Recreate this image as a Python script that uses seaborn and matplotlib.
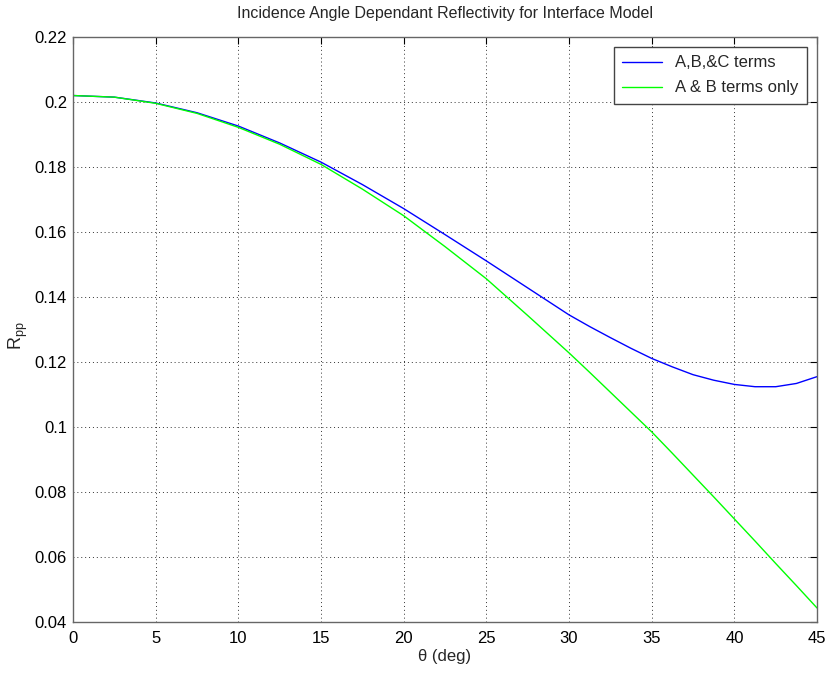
import matplotlib
matplotlib.use("Agg")
import matplotlib.pyplot as plt
import seaborn as sns
import pandas as pd

theta = [0, 2.5, 5, 7.5, 10, 12.5, 15, 17.5, 20, 22.5, 25, 27.5, 30,
         31.25, 32.5, 33.75, 35, 36.25, 37.5, 38.75, 40, 41.25, 42.5, 43.75, 45]
abc_terms = [0.2020, 0.2015, 0.1997, 0.1967, 0.1926, 0.1874, 0.1815, 0.1746, 0.1672, 0.1592,
             0.1511, 0.1428, 0.1345, 0.1309, 0.1275, 0.1242, 0.1211, 0.1185, 0.1161, 0.1144,
             0.1131, 0.1124, 0.1124, 0.1134, 0.1155]
ab_terms = [0.2020, 0.2015, 0.1996, 0.1965, 0.1922, 0.1870, 0.1808, 0.1732, 0.1650, 0.1555,
            0.1456, 0.1343, 0.1228, 0.1168, 0.1107, 0.1046, 0.0985, 0.0919, 0.0852, 0.0785,
            0.0717, 0.0649, 0.0580, 0.0512, 0.0443]
labels = ["A,B,&C terms", "A & B terms only"]
xticks = [0, 5, 10, 15, 20, 25, 30, 35, 40, 45]
yticks = [0.04, 0.06, 0.08, 0.1, 0.12, 0.14, 0.16, 0.18, 0.2, 0.22]
ytick_labels = ["0.04", "0.06", "0.08", "0.1", "0.12", "0.14", "0.16", "0.18", "0.2", "0.22"]

df = pd.DataFrame({
    "theta": theta * 2,
    "R": abc_terms + ab_terms,
    "series": [labels[0]] * len(theta) + [labels[1]] * len(theta),
})

sns.set_style("white")
fam = "Liberation Sans"
plt.rcParams['font.family'] = [fam, 'DejaVu Sans']
plt.rcParams['mathtext.fontset'] = 'custom'
plt.rcParams['mathtext.rm'] = fam

fig = plt.figure(figsize=(8.28, 6.83), dpi=100)
ax = fig.add_axes([0.0882, 0.0893, 0.8986, 0.8565])

sns.lineplot(data=df, x="theta", y="R", hue="series", palette=["#0000ff", "#00ff00"],
             linewidth=1.0, ax=ax, legend=True)

ax.set_xlim(0, 45)
ax.set_ylim(0.04, 0.22)
ax.set_xticks(xticks)
ax.set_yticks(yticks)
ax.set_yticklabels(ytick_labels)
ax.tick_params(direction="in", length=5, labelsize=12, colors="black", top=True, right=True)
ax.tick_params(axis="x", pad=6.5)
ax.tick_params(axis="y", pad=4.3)
ax.grid(True, color="#333333", linestyle=(0, (1, 3)), linewidth=0.7)
for s in ax.spines.values():
    s.set_color("#666666")
    s.set_linewidth(1.0)
    s.set_visible(True)

ax.set_xlabel("θ (deg)", fontsize=12, labelpad=2, family=[fam, 'DejaVu Sans'])
ax.set_ylabel(r"$\mathregular{R_{pp}}$", fontsize=13)
ax.yaxis.set_label_coords(-0.058, 0.49)
ax.set_title("Incidence Angle Dependant Reflectivity for Interface Model", fontsize=11.5, pad=14)

leg = ax.legend(loc="upper right", fontsize=12, frameon=True, fancybox=False,
                edgecolor="#444444", framealpha=1, handlelength=2.4, borderaxespad=0.6,
                labelspacing=0.6, borderpad=0.5, handletextpad=0.8)
leg.get_frame().set_linewidth(1.0)

fig.savefig("out.png", dpi=100)
